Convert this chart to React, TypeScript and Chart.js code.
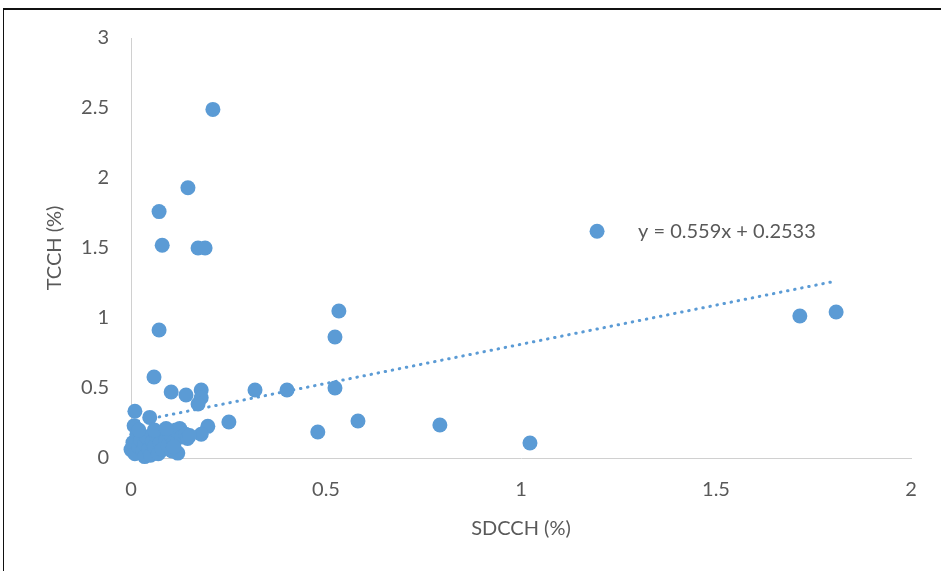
import React, { useEffect, useRef } from "react";
import { Chart, registerables } from "chart.js";

Chart.register(...registerables);

// SDCCH (%) values
const sdcch: number[] = [
  0.21, 0.146, 0.072, 0.08, 0.172, 0.19, 1.195, 0.072, 0.533, 0.523,
  1.715, 1.808, 0.059, 0.103, 0.18, 0.18, 0.172, 0.318, 0.4, 0.523,
  0.141, 0.582, 0.792, 0.479, 1.023, 0.251, 0.197, 0.18, 0.01, 0.048,
  0.008,
  0.0, 0.005, 0.01, 0.015, 0.02, 0.025, 0.03, 0.035, 0.035, 0.04,
  0.045, 0.05, 0.055, 0.06, 0.065, 0.07, 0.075, 0.08, 0.085, 0.09,
  0.095, 0.1, 0.105, 0.11, 0.115, 0.12, 0.125, 0.13, 0.14, 0.145,
  0.15, 0.02, 0.06, 0.09, 0.11,
];

// TCCH (%) values
const tcch: number[] = [
  2.49, 1.93, 1.76, 1.52, 1.5, 1.5, 1.62, 0.914, 1.05, 0.864,
  1.014, 1.043, 0.579, 0.471, 0.486, 0.43, 0.386, 0.486, 0.486, 0.5,
  0.45, 0.264, 0.236, 0.186, 0.107, 0.257, 0.226, 0.17, 0.334, 0.29,
  0.23,
  0.06, 0.11, 0.03, 0.17, 0.08, 0.13, 0.05, 0.01, 0.1, 0.15,
  0.06, 0.02, 0.12, 0.08, 0.16, 0.03, 0.11, 0.06, 0.19, 0.13,
  0.09, 0.17, 0.05, 0.12, 0.2, 0.035, 0.21, 0.15, 0.17, 0.14,
  0.16, 0.2, 0.2, 0.21, 0.08,
];

// Linear trendline y = 0.559x + 0.2533
const trendSlope = 0.559;
const trendIntercept = 0.2533;
const trendXRange: number[] = [0, 1.8];
const equationText = "y = 0.559x + 0.2533";
const equationAnchor = { x: 1.3, y: 1.62 };

const xTicks: number[] = [0, 0.5, 1, 1.5, 2];
const yTicks: number[] = [0, 0.5, 1, 1.5, 2, 2.5, 3];

const FONT = "Lato, 'Open Sans', sans-serif";
const TEXT = "#595959";
const BLUE = "#5B9BD5";

export default function App() {
  const ref = useRef<HTMLCanvasElement | null>(null);

  useEffect(() => {
    if (!ref.current) return;
    const points = sdcch.map((x, i) => ({ x, y: tcch[i] }));
    const trend = trendXRange.map((x) => ({ x, y: trendSlope * x + trendIntercept }));

    const eqPlugin = {
      id: "eqLabel",
      afterDatasetsDraw(chart: any) {
        const { ctx, scales } = chart;
        const px = scales.x.getPixelForValue(equationAnchor.x);
        const py = scales.y.getPixelForValue(equationAnchor.y);
        ctx.save();
        ctx.font = `20px ${FONT}`;
        ctx.fillStyle = TEXT;
        ctx.textAlign = "left";
        ctx.textBaseline = "middle";
        ctx.fillText(equationText, px, py);
        ctx.restore();
      },
    };

    const chart = new Chart(ref.current, {
      type: "scatter",
      data: {
        datasets: [
          {
            label: "TCCH",
            data: points,
            backgroundColor: BLUE,
            borderColor: BLUE,
            borderWidth: 0,
            pointRadius: 7.5,
            pointHoverRadius: 7.5,
            clip: false as any,
          },
          {
            label: "Trend",
            type: "line" as any,
            data: trend,
            showLine: true,
            borderColor: BLUE,
            borderWidth: 3,
            borderDash: [0.5, 6.7],
            borderCapStyle: "round",
            pointRadius: 0,
            fill: false,
            clip: false as any,
          } as any,
        ],
      },
      options: {
        responsive: false,
        animation: false,
        events: [],
        layout: { padding: { top: 38, right: 30, left: 0, bottom: 0 } },
        plugins: {
          legend: { display: false },
          tooltip: { enabled: false },
        },
        scales: {
          x: {
            type: "linear",
            min: 0,
            max: 2,
            afterBuildTicks: (s: any) => {
              s.ticks = xTicks.map((v) => ({ value: v }));
            },
            afterFit: (s: any) => {
              s.height = 113;
            },
            ticks: {
              color: TEXT,
              font: { family: FONT, size: 20 },
              padding: 20,
              maxRotation: 0,
              callback: (v: any) => String(v),
            },
            grid: { display: false, drawTicks: false },
            border: { display: true, color: "#d0d0d0", width: 1 },
            title: {
              display: true,
              text: "SDCCH (%)",
              color: TEXT,
              font: { family: FONT, size: 20 },
              padding: { top: 0, bottom: 30 },
            },
          },
          y: {
            type: "linear",
            min: 0,
            max: 3,
            afterBuildTicks: (s: any) => {
              s.ticks = yTicks.map((v) => ({ value: v }));
            },
            afterFit: (s: any) => {
              s.width = 131;
            },
            ticks: {
              color: TEXT,
              font: { family: FONT, size: 20 },
              padding: 22,
              callback: (v: any) => String(v),
            },
            grid: { display: false, drawTicks: false },
            border: { display: true, color: "#d0d0d0", width: 1 },
            title: {
              display: true,
              text: "TCCH (%)",
              color: TEXT,
              font: { family: FONT, size: 20 },
              padding: { top: 43, bottom: 0 },
            },
          },
        },
      },
      plugins: [eqPlugin],
    });
    return () => chart.destroy();
  }, []);

  return (
    <div
      style={{
        position: "fixed",
        left: 0,
        top: 0,
        width: 941,
        height: 571,
        background: "#fff",
        overflow: "hidden",
      }}
    >
      <canvas ref={ref} width={941} height={571} style={{ position: "absolute", left: 0, top: 0 }} />
      <div
        style={{
          position: "absolute",
          left: 3,
          top: 8,
          width: 1200,
          height: 800,
          borderTop: "2px solid #111",
          borderLeft: "1px solid #111",
          pointerEvents: "none",
        }}
      />
    </div>
  );
}
